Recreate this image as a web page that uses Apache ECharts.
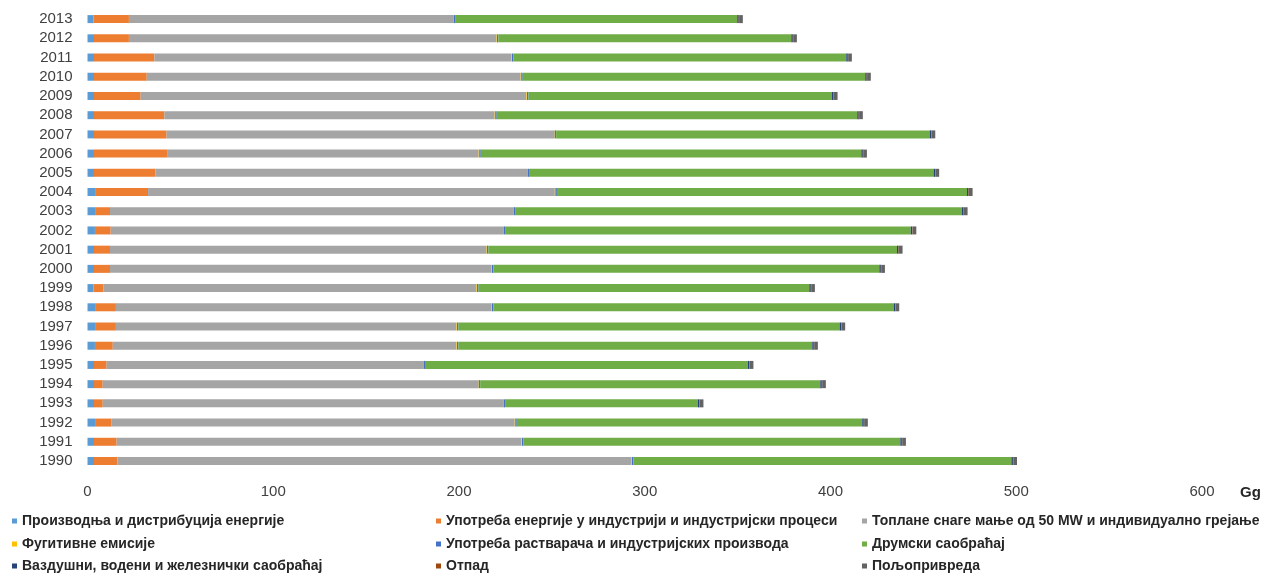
<!DOCTYPE html>
<html>
<head>
<meta charset="utf-8">
<script src="https://cdn.jsdelivr.net/npm/echarts@6/dist/echarts.min.js"></script>
<style>
html,body{margin:0;padding:0;background:#fff;}
#chart{width:1263px;height:573px;}
</style>
</head>
<body>
<div id="chart"></div>
<script>
const years = ['1990','1991','1992','1993','1994','1995','1996','1997','1998','1999','2000','2001','2002','2003','2004','2005','2006','2007','2008','2009','2010','2011','2012','2013'];
const xTicks = [0,100,200,300,400,500,600];

const seriesNames = [
  'Производња и дистрибуција енергије',
  'Употреба енергије у индустрији и индустријски процеси',
  'Топлане снаге мање од 50 MW и индивидуално грејање',
  'Фугитивне емисије',
  'Употреба растварача и индустријских производа',
  'Друмски саобраћај',
  'Ваздушни, водени и железнички саобраћај',
  'Отпад',
  'Пољопривреда'
];

const energy   = [3.5,3.5,4.5,3.5,3.5,3.5,4.0,4.5,4.5,3.2,3.5,3.5,4.0,4.5,4.5,3.5,3.5,3.5,3.5,3.5,3.5,3.5,3.5,3.2];
const industry = [12.6,12.2,8.5,4.7,4.7,6.8,9.6,10.8,10.8,5.3,8.6,8.6,8.5,7.6,28.1,33.0,39.7,39.1,37.9,25.1,28.4,32.5,18.8,19.1];
const heating  = [276.7,217.9,217.0,215.5,202.1,170.3,185.0,183.3,202.1,200.9,205.3,202.6,211.2,217.0,219.0,200.1,167.4,208.6,177.8,207.7,201.3,192.2,197.8,174.5];
const fugitive = [0.3,0.3,0.3,0.3,0.3,0.3,0.3,0.3,0.3,0.3,0.3,0.3,0.3,0.3,0.3,0.3,0.3,0.3,0.3,0.3,0.3,0.3,0.3,0.3];
const solvents = [0.8,0.8,0.8,0.8,0.8,0.8,0.8,0.8,0.8,0.8,0.8,0.8,0.8,0.8,0.8,0.8,0.8,0.8,0.8,0.8,0.8,0.8,0.8,0.8];
const road     = [203.5,202.9,186.0,103.8,183.1,173.8,190.5,205.2,215.5,178.1,207.8,220.0,218.4,240.6,220.8,217.8,204.9,201.1,194.1,163.4,184.4,179.2,157.7,151.9];
const otherTransport = [0.8,0.8,0.8,0.8,0.8,0.8,0.8,0.8,0.8,0.8,0.8,0.8,0.8,0.8,0.8,0.8,0.8,0.8,0.8,0.8,0.8,0.8,0.8,0.8];
const waste    = [0.2,0.2,0.2,0.2,0.2,0.2,0.2,0.2,0.2,0.2,0.2,0.2,0.2,0.2,0.2,0.2,0.2,0.2,0.2,0.2,0.2,0.2,0.2,0.2];
const agriculture = [2.0,2.0,2.0,2.0,2.0,2.0,2.0,2.0,2.0,2.0,2.0,2.0,2.0,2.0,2.0,2.0,2.0,2.0,2.0,2.0,2.0,2.0,2.0,2.0];

const seriesData = [energy, industry, heating, fugitive, solvents, road, otherTransport, waste, agriculture];
const colors = ['#5B9BD5','#ED7D31','#A5A5A5','#FFC000','#4472C4','#70AD47','#264478','#9E480E','#636363'];

const chart = echarts.init(document.getElementById('chart'), null, {renderer:'canvas'});

const legendText = {color:'#262626', fontSize:14, fontWeight:'bold', fontFamily:'Liberation Sans, Arial, sans-serif'};
const colLeft = [12, 436, 862];
const rowTop = [514, 537, 559];
const legends = [];
for (let i = 0; i < seriesNames.length; i++) {
  const r = Math.floor(i / 3), c = i % 3;
  legends.push({
    left: colLeft[c], top: rowTop[r], orient:'horizontal',
    itemWidth: 5, itemHeight: 5, icon:'rect', itemGap: 0, itemTextGap: 4, padding: [0,0,0,0],
    textStyle: legendText,
    data: [seriesNames[i]]
  });
}

const option = {
  animation:false,
  backgroundColor:'#fff',
  color: colors,
  grid:{left:87.5, right:61, top:9.5, bottom:102.4, containLabel:false},
  legend: legends,
  xAxis:{
    type:'value', min:xTicks[0], max:xTicks[xTicks.length-1], interval:100,
    axisLine:{show:false}, axisTick:{show:false}, splitLine:{show:false},
    axisLabel:{color:'#404040', fontSize:15, margin:14, fontFamily:'Liberation Sans, Arial, sans-serif'}
  },
  yAxis:{
    type:'category', data:years,
    axisLine:{show:false}, axisTick:{show:false},
    axisLabel:{color:'#404040', fontSize:15, margin:15, interval:0, fontFamily:'Liberation Sans, Arial, sans-serif'}
  },
  graphic:[{
    type:'text', left:1240, top:485,
    style:{text:'Gg', fill:'#262626', font:'bold 15px Liberation Sans, Arial, sans-serif'}
  }],
  series: seriesNames.map((n,i)=>({
    name:n, type:'bar', stack:'total', barWidth:8,
    data: seriesData[i],
    itemStyle:{color:colors[i]}
  }))
};
chart.setOption(option);
</script>
</body>
</html>
